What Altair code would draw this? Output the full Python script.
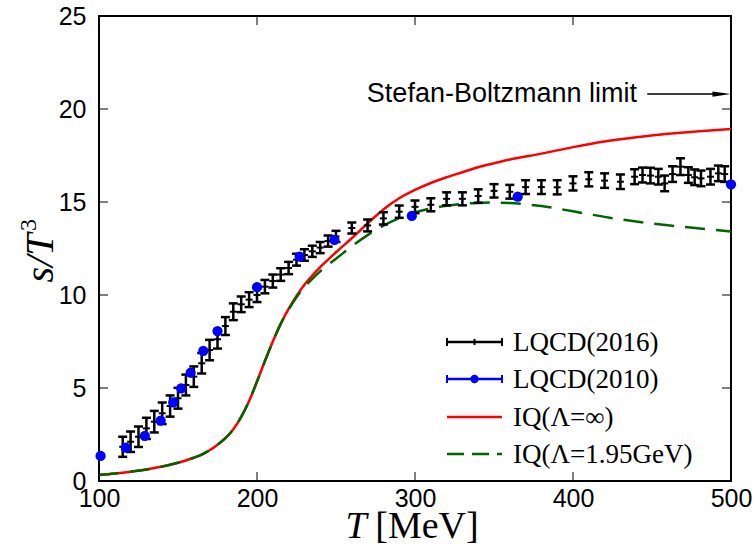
import altair as alt
import pandas as pd

# ---------------- data ----------------
# LQCD(2016): temperature [MeV], s/T^3, error
T16 = [115, 120, 125, 130, 135, 140, 145, 150, 155, 160, 165, 170, 175, 180, 185, 190,
       195, 200, 205, 210, 215, 220, 225, 230, 235, 240, 245, 250, 260, 270, 280, 290,
       300, 310, 320, 330, 340, 350, 360, 370, 380, 390, 400, 410, 420, 430, 439, 444,
       449, 454, 458, 463, 468, 473, 477, 481, 487, 492, 496]
S16 = [1.84, 2.11, 2.38, 2.83, 3.19, 3.64, 4.03, 4.45, 5.16, 5.61, 6.33, 7.04, 7.62, 8.33,
       9.10, 9.50, 9.75, 10.00, 10.45, 10.75, 11.10, 11.45, 11.90, 12.15, 12.35, 12.55,
       12.90, 13.15, 13.60, 13.74, 14.12, 14.48, 14.74, 14.85, 15.17, 15.17, 15.32, 15.60,
       15.55, 15.80, 15.80, 15.79, 16.00, 16.22, 16.15, 16.09, 16.36, 16.45, 16.42, 16.36,
       16.00, 16.50, 16.90, 16.45, 16.33, 16.27, 16.36, 16.54, 16.50]
E16 = [0.54, 0.55, 0.55, 0.57, 0.58, 0.58, 0.57, 0.56, 0.56, 0.55, 0.55, 0.55, 0.50, 0.48,
       0.45, 0.42, 0.40, 0.38, 0.36, 0.35, 0.34, 0.33, 0.32, 0.31, 0.30, 0.30, 0.30, 0.30,
       0.30, 0.32, 0.33, 0.33, 0.34, 0.35, 0.35, 0.35, 0.36, 0.36, 0.37, 0.37, 0.37, 0.38,
       0.38, 0.38, 0.39, 0.39, 0.40, 0.40, 0.42, 0.42, 0.42, 0.42, 0.45, 0.42, 0.42, 0.42,
       0.42, 0.42, 0.42]

# LQCD(2010)
T10 = [101, 117, 129, 139, 147, 152, 158, 166, 175, 200, 227, 249, 298, 365, 500]
S10 = [1.35, 1.79, 2.42, 3.24, 4.23, 4.98, 5.82, 6.99, 8.06, 10.42, 12.06, 12.96, 14.25,
       15.29, 15.95]

# IQ(Lambda = infinity)
T_inf = [100, 110, 120, 130, 140, 150, 160, 165, 170, 175, 180, 185, 190, 195, 200, 205,
         210, 215, 220, 225, 230, 235, 240, 245, 250, 260, 270, 280, 290, 300, 310, 320,
         330, 340, 350, 360, 380, 400, 420, 440, 460, 480, 500]
S_inf = [0.32, 0.40, 0.50, 0.62, 0.78, 0.98, 1.25, 1.42, 1.65, 1.95, 2.30, 2.78, 3.45,
         4.30, 5.35, 6.45, 7.50, 8.45, 9.25, 9.95, 10.55, 11.05, 11.50, 11.90, 12.30,
         13.05, 13.85, 14.60, 15.20, 15.65, 16.02, 16.33, 16.60, 16.87, 17.08, 17.28,
         17.60, 17.95, 18.25, 18.48, 18.67, 18.80, 18.92]

# IQ(Lambda = 1.95 GeV)
T_fin = [100, 110, 120, 130, 140, 150, 160, 165, 170, 175, 180, 185, 190, 195, 200, 205,
         210, 215, 220, 225, 230, 235, 240, 245, 250, 260, 270, 280, 290, 300, 310, 320,
         330, 340, 350, 360, 370, 380, 400, 420, 440, 460, 480, 500]
S_fin = [0.32, 0.40, 0.50, 0.62, 0.78, 0.98, 1.25, 1.42, 1.65, 1.95, 2.30, 2.78, 3.45,
         4.30, 5.35, 6.45, 7.50, 8.45, 9.22, 9.88, 10.42, 10.87, 11.27, 11.62, 11.95,
         12.62, 13.22, 13.73, 14.13, 14.44, 14.65, 14.80, 14.90, 14.95, 14.97, 14.95,
         14.88, 14.78, 14.50, 14.20, 13.95, 13.75, 13.58, 13.42]

X_TICKS = [100, 200, 300, 400, 500]
Y_TICKS = [0, 5, 10, 15, 20, 25]
SB_LIMIT = 20.8

LEGEND = ["LQCD(2016)", "LQCD(2010)", "IQ(Λ=∞)", "IQ(Λ=1.95GeV)"]

# ---------------- tables ----------------
d16 = pd.DataFrame({"T": T16, "s": S16, "e": E16})
d16["lo"] = d16["s"] - d16["e"]
d16["hi"] = d16["s"] + d16["e"]
d10 = pd.DataFrame({"T": T10, "s": S10})
dinf = pd.DataFrame({"T": T_inf, "s": S_inf})
dfin = pd.DataFrame({"T": T_fin, "s": S_fin})
xt = pd.DataFrame({"v": X_TICKS})
yt = pd.DataFrame({"v": Y_TICKS})
one = pd.DataFrame({"k": [0]})

W, H = 632, 465
SANS = "Liberation Sans"
SERIF = "Liberation Serif"

xs = alt.Scale(domain=[100, 500], nice=False, zero=False)
ys = alt.Scale(domain=[0, 25], nice=False, zero=False)

xax = alt.Axis(values=X_TICKS, title=None, grid=False, domain=False, ticks=False,
               labelFont=SANS, labelFontSize=25, labelColor="black", labelPadding=5,
               labelFlush=False)
yax = alt.Axis(values=Y_TICKS, title=None, grid=False, domain=False, ticks=False,
               labelFont=SANS, labelFontSize=25, labelColor="black", labelPadding=13,
               labelFlush=False)

X = alt.X("T:Q", scale=xs, axis=xax)
Y = alt.Y("s:Q", scale=ys, axis=yax)

red = alt.Chart(dinf).mark_line(color="#ff0000", strokeWidth=2.5, interpolate="monotone").encode(
    x=X, y=Y)
green = alt.Chart(dfin).mark_line(color="#006400", strokeWidth=2.5, strokeDash=[20, 11],
                                  interpolate="monotone").encode(
    x=alt.X("T:Q", scale=xs), y=alt.Y("s:Q", scale=ys))

bx = alt.X("T:Q", scale=xs)
bars = alt.Chart(d16).mark_rule(color="black", strokeWidth=2.5).encode(
    x=bx, y=alt.Y("lo:Q", scale=ys), y2="hi:Q")
cap_lo = alt.Chart(d16).mark_tick(color="black", orient="horizontal", size=9, thickness=2.5,
                                  opacity=1).encode(x=bx, y=alt.Y("lo:Q", scale=ys))
cap_hi = alt.Chart(d16).mark_tick(color="black", orient="horizontal", size=9, thickness=2.5,
                                  opacity=1).encode(x=bx, y=alt.Y("hi:Q", scale=ys))
cap_mid = alt.Chart(d16).mark_tick(color="black", orient="horizontal", size=7, thickness=2,
                                   opacity=1).encode(x=bx, y=alt.Y("s:Q", scale=ys))

blue = alt.Chart(d10).mark_point(filled=True, shape="circle", size=105, color="#0000ff", opacity=1).encode(
    x=bx, y=alt.Y("s:Q", scale=ys))

# inward ticks on all four sides
tl = 9
ytick_l = alt.Chart(yt).mark_rule(color="black", strokeWidth=1).encode(
    y=alt.Y("v:Q", scale=ys), x=alt.value(0), x2=alt.value(tl))
ytick_r = alt.Chart(yt).mark_rule(color="black", strokeWidth=1).encode(
    y=alt.Y("v:Q", scale=ys), x=alt.value(W - tl), x2=alt.value(W))
xtick_b = alt.Chart(xt).mark_rule(color="black", strokeWidth=1).encode(
    x=alt.X("v:Q", scale=xs), y=alt.value(H), y2=alt.value(H - tl))
xtick_t = alt.Chart(xt).mark_rule(color="black", strokeWidth=1).encode(
    x=alt.X("v:Q", scale=xs), y=alt.value(0), y2=alt.value(tl))

# Stefan-Boltzmann annotation
sb = pd.DataFrame({"T": [355], "s": [SB_LIMIT], "T0": [447], "T1": [490], "Th": [494]})
sb_text = alt.Chart(sb).mark_text(text="Stefan-Boltzmann limit", font=SANS, fontSize=27,
                                  color="black", align="center", baseline="middle").encode(
    x=alt.X("T:Q", scale=xs), y=alt.Y("s:Q", scale=ys))
sb_line = alt.Chart(sb).mark_rule(color="black", strokeWidth=1.5).encode(
    x=alt.X("T0:Q", scale=xs), x2="T1:Q", y=alt.Y("s:Q", scale=ys))
sb_head = alt.Chart(sb).mark_point(shape="M-1,-0.3L1,0L-1,0.3Z", filled=True, size=330,
                                   color="black", opacity=1).encode(
    x=alt.X("Th:Q", scale=xs), y=alt.Y("s:Q", scale=ys))


def txt(text, x, y, size, font, style="normal", angle=0, align="center", baseline="middle"):
    return alt.Chart(one).mark_text(text=text, font=font, fontSize=size, fontStyle=style,
                                    angle=angle, align=align, baseline=baseline,
                                    color="black").encode(x=alt.value(x), y=alt.value(y))


def hline(x1, x2, y, color, dash=None, width=2):
    kw = dict(color=color, strokeWidth=width)
    if dash:
        kw["strokeDash"] = dash
    return alt.Chart(one).mark_rule(**kw).encode(x=alt.value(x1), x2=alt.value(x2), y=alt.value(y))


def vline(x, y1, y2, color, width=2):
    return alt.Chart(one).mark_rule(color=color, strokeWidth=width).encode(
        x=alt.value(x), y=alt.value(y1), y2=alt.value(y2))


# legend (manual, plot-area pixel coordinates)
lx1, lx2, lxt = 348, 403, 414
rows = [326, 363, 401, 438]
leg = []
# LQCD(2016)
leg += [hline(lx1, lx2, rows[0], "black", width=2.5), vline(lx1, rows[0] - 4, rows[0] + 4, "black"),
        vline(lx2, rows[0] - 4, rows[0] + 4, "black"),
        vline((lx1 + lx2) / 2, rows[0] - 3, rows[0] + 3, "black")]
# LQCD(2010)
leg += [hline(lx1, lx2, rows[1], "#0000ff", width=2.5), vline(lx1, rows[1] - 4, rows[1] + 4, "#0000ff"),
        vline(lx2, rows[1] - 4, rows[1] + 4, "#0000ff"),
        alt.Chart(one).mark_point(filled=True, shape="circle", size=70, color="#0000ff", opacity=1).encode(
            x=alt.value((lx1 + lx2) / 2), y=alt.value(rows[1]))]
leg += [hline(lx1, lx2, rows[2], "#ff0000", width=2.5)]
leg += [hline(lx1, lx2, rows[3], "#006400", dash=[17, 8], width=2.5)]
for r, lab in zip(rows, LEGEND):
    leg.append(txt(lab, lxt, r + 1, 27, SERIF, align="left"))

# axis titles (manual, to get italic symbols and superscript)
ytitle = txt("s/T", -46, 242, 40, SERIF, style="italic", angle=270, baseline="alphabetic")
ysup = txt("3", -63, 209, 24, SERIF, angle=270, baseline="alphabetic")
xtitle_T = txt("T", 257, 522, 38, SERIF, style="italic", baseline="alphabetic")
xtitle_u = txt("[MeV]", 328, 522, 38, SERIF, baseline="alphabetic")

chart = alt.layer(
    red, green, bars, cap_lo, cap_hi, cap_mid, blue,
    ytick_l, ytick_r, xtick_b, xtick_t,
    sb_text, sb_line, sb_head,
    *leg, ytitle, ysup, xtitle_T, xtitle_u
).properties(
    width=W, height=H,
    autosize=alt.AutoSizeParams(type="none"),
    padding={"left": 99, "top": 16, "right": 25, "bottom": 65},
    background="white",
).configure_view(stroke="black", strokeWidth=2)

chart.save("out.html", embed_options={"renderer": "svg", "actions": False})
